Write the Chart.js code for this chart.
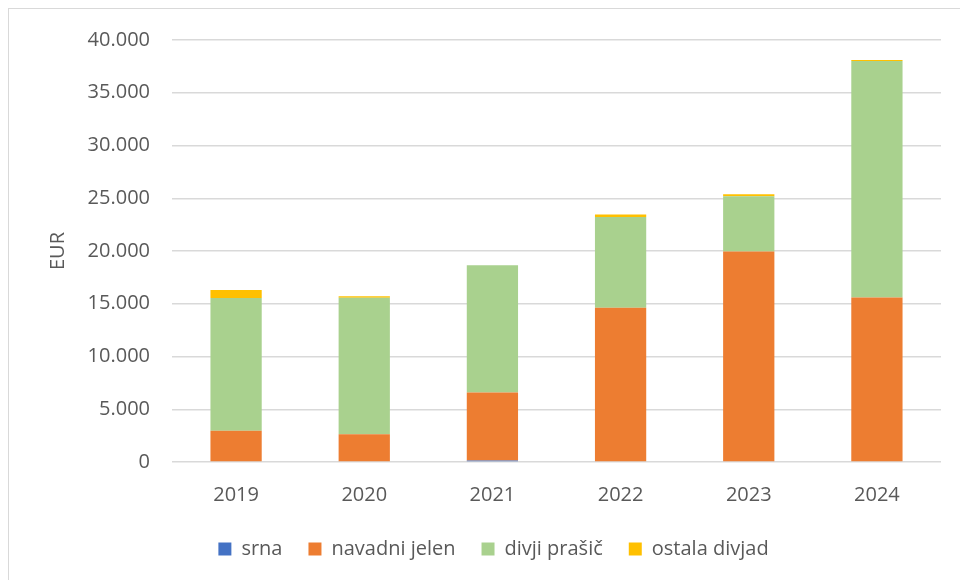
<!DOCTYPE html>
<html lang="sl">
<head>
<meta charset="UTF-8">
<title>Škoda po vrstah divjadi</title>
<script src="https://cdn.jsdelivr.net/npm/chart.js"></script>
<style>
  html, body { margin: 0; padding: 0; background: #fff; overflow: hidden; }
  #wrap { position: relative; width: 960px; height: 580px; }
  #frame { position: absolute; left: 8px; top: 8px; width: 1000px; height: 1000px; border: 1px solid #d9d9d9; box-sizing: border-box; }
  canvas { position: absolute; left: 0; top: 0; }
</style>
</head>
<body>
<div id="wrap">
  <div id="frame"></div>
  <canvas id="chart" width="960" height="580"></canvas>
</div>
<script>
  // data (EUR)
  const years = ['2019', '2020', '2021', '2022', '2023', '2024'];
  const srna = [0, 0, 150, 0, 0, 0];
  const navadniJelen = [2960, 2620, 6440, 14630, 19950, 15600];
  const divjiPrasic = [12580, 12950, 12070, 8600, 5230, 22410];
  const ostalaDivjad = [760, 130, 0, 220, 190, 100];

  const yMax = 40000;
  const yStep = 5000;

  const textColor = '#595959';
  const gridColor = '#d9d9d9';
  const fontFamily = '"Open Sans", "Liberation Sans", sans-serif';

  function fmt(v) {
    return v.toString().replace(/\B(?=(\d{3})+(?!\d))/g, '.');
  }

  const ctx = document.getElementById('chart').getContext('2d');
  new Chart(ctx, {
    type: 'bar',
    data: {
      labels: years,
      datasets: [
        { label: 'srna', data: srna, backgroundColor: '#4472c4' },
        { label: 'navadni jelen', data: navadniJelen, backgroundColor: '#ed7d31' },
        { label: 'divji prašič', data: divjiPrasic, backgroundColor: '#a9d18e' },
        { label: 'ostala divjad', data: ostalaDivjad, backgroundColor: '#ffc000' }
      ]
    },
    options: {
      responsive: false,
      animation: false,
      layout: { padding: { left: 46, right: 19, top: 40, bottom: 11 } },
      datasets: {
        bar: { categoryPercentage: 1, barPercentage: 0.4, borderWidth: 0 }
      },
      scales: {
        x: {
          stacked: true,
          grid: { display: false, drawTicks: false },
          border: { display: false },
          ticks: { color: textColor, font: { family: fontFamily, size: 20 }, padding: 21 },
          afterFit: s => { s.height = 51; }
        },
        y: {
          stacked: true,
          min: 0,
          max: yMax,
          ticks: {
            stepSize: yStep,
            color: textColor,
            font: { family: fontFamily, size: 20 },
            padding: 22,
            callback: v => fmt(v)
          },
          grid: { color: gridColor, lineWidth: 1.5, drawTicks: false },
          border: { display: false },
          title: {
            display: true,
            text: 'EUR',
            color: textColor,
            font: { family: fontFamily, size: 20 },
            padding: 0
          },
          afterFit: s => { s.width = 126; }
        }
      },
      plugins: {
        legend: {
          position: 'bottom',
          labels: {
            color: textColor,
            font: { family: fontFamily, size: 20 },
            boxWidth: 13,
            boxHeight: 13,
            padding: 26
          }
        },
        tooltip: { enabled: false }
      }
    }
  });
</script>
</body>
</html>
